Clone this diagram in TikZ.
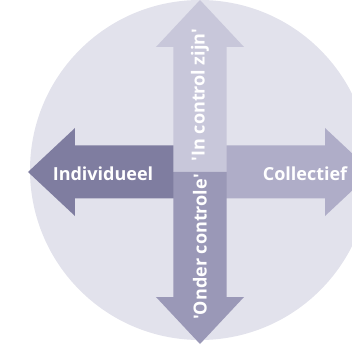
\documentclass[tikz,border=0pt]{standalone}
\usepackage{fontspec}
\setmainfont{Open Sans}
\usepackage{xcolor}
\definecolor{discbg}{HTML}{E2E2EC}
\definecolor{upcol}{HTML}{C8C7DA}
\definecolor{downcol}{HTML}{9A98B7}
\definecolor{leftcol}{HTML}{7F7DA0}
\definecolor{rightcol}{HTML}{AFADC8}

\begin{document}
\begin{tikzpicture}[
    x=1pt,y=1pt,
    halfarrow/.pic={\fill (-26.5,0) -- (-26.5,125) -- (-44,125) -- (0,172)
        -- (44,125) -- (26.5,125) -- (26.5,0) -- cycle;},
    label/.style={text=white,font=\fontsize{18}{20}\selectfont\bfseries,inner sep=0pt}
]
\useasboundingbox (-200,-184) rectangle (152,172);
\clip (-200,-184) rectangle (152,172);
\fill[discbg] (0,2) circle (170);
% horizontal axis first, vertical on top
\pic[fill=leftcol,rotate=90] at (0,0) {halfarrow};
\pic[fill=rightcol,rotate=-90] at (0,0) {halfarrow};
\pic[fill=upcol] at (0,0) {halfarrow};
\pic[fill=downcol,rotate=180] at (0,0) {halfarrow};
\node[label] (indiv) at (-97,-2) {Individueel};
\node[label] (coll) at (105,-2) {Collectief};
\node[label,rotate=90] (incontrol) at (0,77)
    {\textquotesingle In control zijn\textquotesingle};
\node[label,rotate=90] (onder) at (0,-75)
    {\textquotesingle Onder controle\textquotesingle};
\end{tikzpicture}
\end{document}
